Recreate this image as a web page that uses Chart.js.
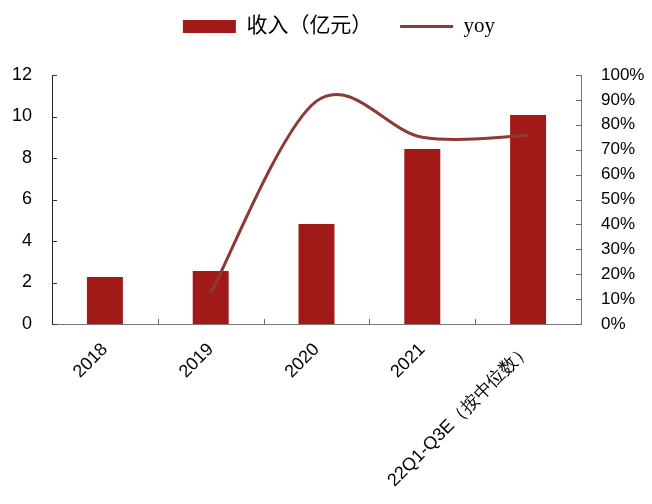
<!DOCTYPE html>
<html>
<head>
<meta charset="utf-8">
<script src="https://cdn.jsdelivr.net/npm/chart.js@4/dist/chart.umd.min.js"></script>
<style>
  html, body { margin: 0; padding: 0; background: #fff; }
  #wrap { width: 652px; height: 504px; position: relative; }
</style>
</head>
<body>
<div id="wrap"><canvas id="c"></canvas></div>
<script>
// Revenue (亿元) and year-over-year growth (%)
const categories = ['2018', '2019', '2020', '2021', '22Q1-Q3E（按中位数）'];
const revenue = [2.27, 2.55, 4.82, 8.43, 10.07];
const yoy = [null, 12.4, 89.5, 75, 75.7];
const revenueLabel = '收入（亿元）';
const yoyLabel = 'yoy';

const BAR_RED = '#A11A18';
const LINE_RED = '#8C3A36';
const SANS = "'Liberation Sans', Arial, sans-serif";
const SERIF = "'Liberation Serif', 'Noto Sans CJK SC', serif";

// Short tick marks pointing into the plot area
const innerTicks = {
  id: 'innerTicks',
  afterDatasetsDraw(chart) {
    const { ctx, chartArea, scales } = chart;
    const len = 5;
    ctx.save();
    ctx.lineWidth = 1;
    ctx.strokeStyle = '#333';
    scales.y.ticks.forEach((t, i) => {
      const py = Math.round(scales.y.getPixelForTick(i)) + 0.5;
      ctx.beginPath(); ctx.moveTo(chartArea.left, py); ctx.lineTo(chartArea.left + len, py); ctx.stroke();
    });
    ctx.strokeStyle = '#666';
    scales.y1.ticks.forEach((t, i) => {
      const py = Math.round(scales.y1.getPixelForTick(i)) + 0.5;
      ctx.beginPath(); ctx.moveTo(chartArea.right, py); ctx.lineTo(chartArea.right - len, py); ctx.stroke();
    });
    const xs = scales.x;
    for (let i = 0; i < categories.length - 1; i++) {
      const px = Math.round((xs.getPixelForValue(i) + xs.getPixelForValue(i + 1)) / 2) + 0.5;
      ctx.beginPath(); ctx.moveTo(px, chartArea.bottom); ctx.lineTo(px, chartArea.bottom - len); ctx.stroke();
    }
    ctx.restore();
  }
};

// Uniform Catmull-Rom smoothing for the yoy line (control points = neighbour difference / 6)
const catmullRom = {
  id: 'catmullRom',
  beforeDatasetDraw(chart, args) {
    const meta = args.meta;
    if (meta.type !== 'line' || !meta.dataset) return;
    meta.dataset.updateControlPoints(chart.chartArea, 'x');
    const pts = meta.data.filter(p => !p.skip);
    pts.forEach((p, i) => {
      const prev = pts[i - 1] || p;
      const next = pts[i + 1] || p;
      const dx = (next.x - prev.x) / 6;
      const dy = (next.y - prev.y) / 6;
      p.cp1x = p.x - dx; p.cp1y = p.y - dy;
      p.cp2x = p.x + dx; p.cp2y = p.y + dy;
    });
  }
};

// Extra room between the legend row and the plot area, legend row nudged right
const legendPlacement = {
  id: 'legendPlacement',
  afterInit(chart) {
    const lg = chart.legend;
    if (!lg) return;
    const fit = lg.fit.bind(lg);
    lg.fit = function () { fit(); this.height = 71; };
  },
  afterLayout(chart) {
    if (chart.legend) chart.legend.left += 26;
  }
};

new Chart(document.getElementById('c'), {
  data: {
    labels: categories,
    datasets: [
      {
        type: 'line',
        label: yoyLabel,
        data: yoy,
        yAxisID: 'y1',
        borderColor: LINE_RED,
        backgroundColor: LINE_RED,
        borderWidth: 3,
        pointRadius: 0,
        tension: 0.4,
        order: 0
      },
      {
        type: 'bar',
        label: revenueLabel,
        data: revenue,
        yAxisID: 'y',
        backgroundColor: BAR_RED,
        borderWidth: 0,
        categoryPercentage: 1,
        barPercentage: 0.34,
        order: 1
      }
    ]
  },
  options: {
    responsive: true,
    maintainAspectRatio: false,
    animation: false,
    layout: { padding: { top: 4, left: 0, right: 0, bottom: 0 } },
    plugins: {
      tooltip: { enabled: false },
      legend: {
        position: 'top',
        reverse: true,
        labels: {
          usePointStyle: true,
          pointStyleWidth: 53,
          boxWidth: 53,
          boxHeight: 13,
          padding: 12,
          color: '#111',
          font: { family: SERIF, size: 21 },
          generateLabels(chart) {
            return chart.data.datasets.map((ds, i) => ({
              // trailing spaces widen the gap to the next entry
              text: ds.type === 'bar' ? ds.label + '\u3000 ' : ds.label,
              datasetIndex: i,
              fillStyle: ds.type === 'bar' ? ds.backgroundColor : ds.borderColor,
              strokeStyle: ds.type === 'bar' ? ds.backgroundColor : ds.borderColor,
              lineWidth: ds.type === 'bar' ? 0 : 3,
              pointStyle: ds.type === 'bar' ? 'rect' : 'line',
              hidden: false
            }));
          }
        }
      }
    },
    scales: {
      x: {
        offset: true,
        grid: { display: false, offset: true },
        border: { display: true, color: '#777', width: 1 },
        ticks: {
          color: '#000',
          font: { family: SANS, size: 18 },
          minRotation: 45,
          maxRotation: 45,
          padding: 7,
          autoSkip: false
        },
        afterFit(s) { s.height = 180; }
      },
      y: {
        position: 'left',
        min: 0,
        max: 12,
        grid: { display: false },
        border: { display: true, color: '#222', width: 1 },
        ticks: {
          stepSize: 2,
          color: '#000',
          font: { family: SANS, size: 18 },
          padding: 12
        },
        afterFit(s) { s.width = 52; }
      },
      y1: {
        position: 'right',
        min: 0,
        max: 100,
        grid: { display: false },
        border: { display: true, color: '#777', width: 1 },
        ticks: {
          stepSize: 10,
          color: '#000',
          font: { family: SANS, size: 17 },
          padding: 12,
          callback: v => v + '%'
        },
        afterFit(s) { s.width = 71; }
      }
    }
  },
  plugins: [innerTicks, catmullRom, legendPlacement]
});
</script>
</body>
</html>
